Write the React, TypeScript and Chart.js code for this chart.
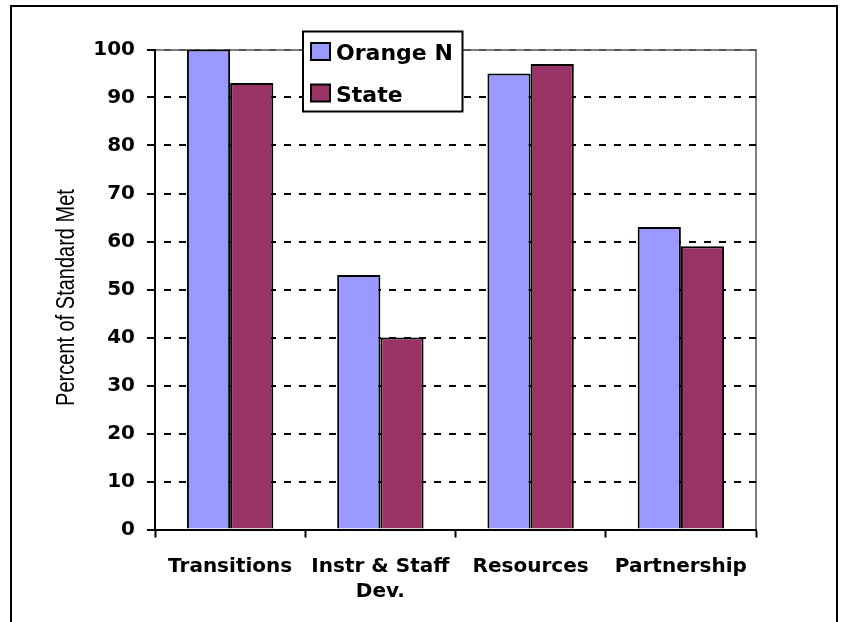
import React, { useEffect, useRef } from 'react';
import { Chart, registerables } from 'chart.js';

Chart.register(...registerables);

// ---- data ----
const categories: (string | string[])[] = ['Transitions', ['Instr & Staff', 'Dev.'], 'Resources', 'Partnership'];
const seriesNames = ['Orange N', 'State'];
const orangeN = [100, 53, 95, 63];
const stateVals = [93, 40, 97, 59];
const yTickValues = [0, 10, 20, 30, 40, 50, 60, 70, 80, 90, 100];
const seriesColors = ['#9999FF', '#993366'];
const yTitle = 'Percent of Standard Met';

const BOLD_FONT = 'DejaVu Sans';

const framePlugin = {
  id: 'frame',
  beforeDraw(chart: any) {
    const { ctx, chartArea } = chart;
    ctx.save();
    // outer frame
    ctx.strokeStyle = '#000';
    ctx.lineWidth = 2;
    ctx.strokeRect(11, 6, 826, 640);
    // gray plot-area border (top and right)
    ctx.strokeStyle = '#808080';
    ctx.lineWidth = 2;
    ctx.beginPath();
    ctx.moveTo(chartArea.left, Math.round(chartArea.top));
    ctx.lineTo(chartArea.right, Math.round(chartArea.top));
    ctx.lineTo(chartArea.right, chartArea.bottom);
    ctx.stroke();
    ctx.restore();
  },
};

// y-axis title, drawn along the y scale (text slightly widened like the source)
const yTitlePlugin = {
  id: 'yTitle',
  afterDraw(chart: any) {
    const { ctx } = chart;
    const y = chart.scales.y;
    const centerY = (y.top + y.bottom) / 2 + 8;
    ctx.save();
    ctx.translate(73.5, centerY);
    ctx.rotate(-Math.PI / 2);
    ctx.scale(1, 1.25);
    ctx.font = '20px "Liberation Sans", Arial, sans-serif';
    ctx.fillStyle = '#000';
    ctx.textAlign = 'center';
    ctx.textBaseline = 'alphabetic';
    ctx.fillText(yTitle, 0, 0);
    ctx.restore();
  },
};

const legendPlugin = {
  id: 'boxLegend',
  afterDraw(chart: any) {
    const { ctx } = chart;
    const boxL = 303, boxT = 31.5, boxR = 462.5, boxB = 111.5;
    ctx.save();
    ctx.fillStyle = '#fff';
    ctx.fillRect(boxL, boxT, boxR - boxL, boxB - boxT);
    ctx.strokeStyle = '#000';
    ctx.lineWidth = 2;
    ctx.strokeRect(boxL, boxT, boxR - boxL, boxB - boxT);
    ctx.font = `bold 22px ${BOLD_FONT}`;
    ctx.textBaseline = 'alphabetic';
    ctx.textAlign = 'left';
    chart.data.datasets.forEach((ds: any, i: number) => {
      const sy = 43 + i * 41.5;
      ctx.fillStyle = ds.backgroundColor;
      ctx.fillRect(311, sy, 19, 17);
      ctx.strokeStyle = '#000';
      ctx.lineWidth = 2;
      ctx.strokeRect(311, sy, 19, 17);
      ctx.fillStyle = '#000';
      ctx.fillText(ds.label, 336, 60 + i * 42);
    });
    ctx.restore();
  },
};

export default function App() {
  const ref = useRef<HTMLCanvasElement>(null);
  useEffect(() => {
    const canvas = ref.current!;
    const chart = new Chart(canvas, {
      type: 'bar',
      data: {
        labels: categories,
        datasets: [
          {
            label: seriesNames[0],
            data: orangeN,
            backgroundColor: seriesColors[0],
            borderColor: '#000',
            borderWidth: 2,
            categoryPercentage: 0.575,
            barPercentage: 1,
          },
          {
            label: seriesNames[1],
            data: stateVals,
            backgroundColor: seriesColors[1],
            borderColor: '#000',
            borderWidth: 2,
            categoryPercentage: 0.575,
            barPercentage: 1,
          },
        ],
      },
      options: {
        responsive: false,
        animation: false,
        devicePixelRatio: 1,
        layout: { padding: { left: 0, right: 90, top: 49.5, bottom: 0 } },
        plugins: {
          legend: { display: false },
          tooltip: { enabled: false },
        },
        scales: {
          x: {
            afterFit: (s: any) => {
              s.height = 92.5;
            },
            grid: {
              offset: true,
              drawOnChartArea: false,
              drawTicks: true,
              tickLength: 8,
              tickColor: '#000',
              tickWidth: 2,
            },
            border: { display: true, color: '#000', width: 2 },
            ticks: {
              color: '#000',
              font: { family: BOLD_FONT, weight: 'bold', size: 20, lineHeight: 1.25 },
              padding: 17,
              maxRotation: 0,
              autoSkip: false,
            },
          },
          y: {
            min: 0,
            max: 100,
            afterFit: (s: any) => {
              s.width = 155;
            },
            afterBuildTicks: (s: any) => {
              s.ticks = yTickValues.map((v) => ({ value: v }));
            },
            grid: {
              color: (c: any) => (c.tick && c.tick.value === 100 ? '#555' : '#000'),
              lineWidth: 2,
              drawTicks: true,
              tickLength: 8,
              tickColor: '#000',
              tickWidth: 2,
            },
            border: { display: true, color: '#000', width: 2, dash: [7, 8], dashOffset: 7 },
            ticks: {
              color: '#000',
              font: { family: BOLD_FONT, weight: 'bold', size: 20 },
              padding: 12,
              stepSize: 10,
            },
            title: { display: false },
          },
        },
      } as any,
      plugins: [framePlugin, legendPlugin, yTitlePlugin],
    });
    return () => chart.destroy();
  }, []);
  return (
    <div style={{ position: 'absolute', left: 0, top: 0, width: 846, height: 622 }}>
      <canvas ref={ref} width={846} height={622} style={{ display: 'block', width: 846, height: 622 }} />
    </div>
  );
}
